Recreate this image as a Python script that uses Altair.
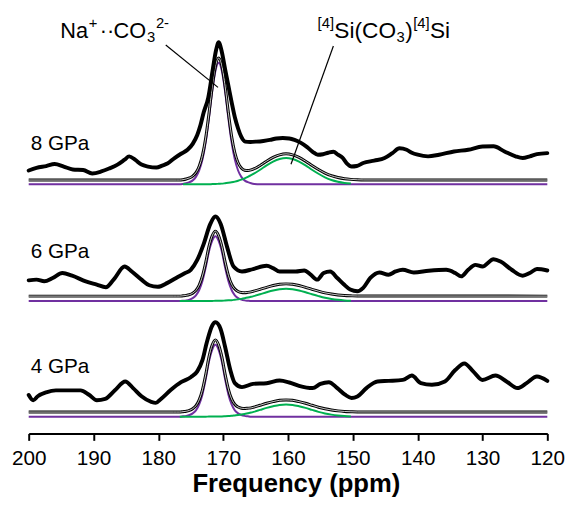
import altair as alt
import pandas as pd

FONT = "Liberation Sans"
PURPLE = "#7030A0"
GREEN = "#00B050"

# ---------------- data ----------------
panels = ["8 GPa", "6 GPa", "4 GPa"]
offsets = [252.7, 134.3, 17.0]          # vertical stacking offset of each spectrum
label_rel = [40.3, 49.2, 50.0]          # pressure label height above its spectrum
label_ppm = 199.7

# experimental spectra (thick black)
exp_ppm_8 = [200.0, 198.8, 197.3, 196.0, 194.6, 193.2, 191.6, 190.2, 188.8, 187.6,
             186.3, 185.2, 184.5, 183.6, 182.6, 181.6, 180.3, 179.4, 178.6, 177.5,
             176.5, 175.5, 174.7, 174.0, 173.5, 173.0, 172.3, 171.6, 171.1, 170.7,
             170.2, 169.7, 169.2, 168.7, 168.2, 167.7, 167.2, 166.6, 165.8, 164.9,
             163.8, 162.8, 161.8, 160.8, 159.8, 159.0, 158.0, 157.1, 156.2, 155.4,
             154.6, 153.8, 153.0, 152.3, 151.6, 150.9, 150.2, 149.4, 148.4, 146.7,
             145.1, 143.9, 142.8, 141.7, 140.9, 140.0, 138.4, 136.7, 134.4, 132.2,
             130.0, 128.3, 126.6, 124.9, 123.8, 122.7, 121.6, 120.0]
exp_int_8 = [14, 16.6, 18.5, 20.5, 18, 15, 14.5, 11, 13, 16,
             20, 25, 28.3, 25, 20, 18, 17, 19, 21, 26.6,
             31, 35, 41, 50, 60, 73, 88, 116.6, 136, 144,
             134, 116.6, 100, 83.3, 68, 56.6, 48, 43.3, 43, 43.3,
             44, 45, 46.5, 47, 46.5, 45, 42, 38, 33, 30,
             30.5, 32, 33, 30, 27, 21, 18, 18.5, 21.6, 24,
             26.6, 31.6, 36.5, 35, 32, 30, 28.3, 30, 33.3, 35,
             38.3, 38.5, 33.3, 28.3, 26.6, 28.3, 30.6, 31.6]

exp_ppm_6 = [200.0, 198.8, 197.6, 196.3, 194.8, 193.3, 191.2, 189.5, 188.1, 186.9,
             185.2, 184.1, 182.6, 181.4, 180.1, 178.6, 177.0, 176.0, 175.0, 174.0,
             173.0, 172.0, 171.2, 170.4, 169.4, 168.4, 167.1, 165.4, 163.3, 162.3,
             161.3, 158.8, 157.5, 156.5, 155.5, 154.5, 153.5, 152.4, 151.4, 150.4,
             149.3, 148.4, 147.3, 145.9, 144.5, 143.4, 142.3, 140.6, 138.3, 135.6,
             134.2, 133.3, 132.2, 131.1, 130.0, 128.3, 127.2, 125.5, 123.8, 122.7,
             121.6, 120.0]
exp_int_6 = [21, 21.7, 20, 23.4, 28.4, 25.7, 20, 16.7, 14, 21.7,
             35, 30, 21.7, 16, 14.4, 18.4, 24.4, 28, 31.7, 41.7,
             58, 78, 85.7, 78.4, 55, 35, 30, 32.4, 35.7, 33.4,
             30, 30, 31, 26.7, 21.7, 28.4, 30, 23.4, 17, 11.7,
             10, 13.4, 23.4, 29, 26.7, 30, 31.7, 29, 30.7, 31.7,
             28.4, 25, 31.7, 36.7, 35, 42.4, 40, 31.7, 25.7, 28.4,
             32.4, 31]

exp_ppm_4 = [200.0, 199.3, 198.6, 197.3, 195.8, 193.8, 192.0, 190.7, 189.5, 188.2,
             186.7, 185.1, 183.9, 182.6, 181.1, 180.4, 179.6, 178.1, 176.5, 175.0,
             174.0, 173.2, 172.5, 171.7, 171.2, 170.4, 169.7, 168.9, 168.2, 167.1,
             165.4, 163.3, 161.3, 159.8, 158.3, 156.2, 155.0, 153.7, 152.4, 151.2,
             150.2, 149.3, 147.9, 146.2, 144.5, 142.3, 140.9, 139.5, 137.8, 135.8,
             134.2, 132.8, 131.4, 130.0, 128.0, 126.3, 124.6, 123.2, 121.6, 120.0]
exp_int_4 = [22, 16.7, 20.7, 24.7, 26.7, 26.7, 26.7, 22.3, 16.7, 18,
             26.7, 35.7, 29, 20.7, 15, 14, 18, 27, 35, 40,
             46, 57.3, 76, 92.3, 95.7, 89, 70.7, 47.3, 34, 30,
             33.3, 34, 36.7, 34.7, 31.3, 29, 33.3, 35, 29, 22.3,
             19, 20.5, 29, 35.7, 36.3, 37.3, 41.7, 34, 32.3, 35.7,
             47.3, 54, 45.7, 37.3, 41.7, 35.7, 29, 34, 40.7, 36.3]

# fitted components (purple = Na+..CO3 2-, green = [4]Si(CO3)[4]Si) and total fit
comp_ppm_8 = [200, 177.2, 176.7, 176.2, 175.7, 175.2, 174.7, 174.2, 173.7, 173.2,
              172.7, 172.2, 171.7, 171.2, 170.7, 170.2, 169.7, 169.2, 168.7, 168.2,
              167.7, 167.2, 166.7, 166.2, 165.7, 165.2, 164.3, 163.3, 162.3, 161.3,
              160.3, 159.3, 158.3, 157.3, 156.3, 155.3, 154.3, 153.3, 152.3, 151.3,
              150.3, 149.3, 148.3, 120]
purple_8 = [0, 0, 0, 0.4, 1.1, 2.2, 4.0, 7.5, 14, 25,
            42.5, 67, 94, 115, 123.3, 115, 94, 67, 42.5, 25,
            14, 7.5, 4.0, 2.2, 1.1, 0.4, 0, 0, 0, 0,
            0, 0, 0, 0, 0, 0, 0, 0, 0, 0,
            0, 0, 0, 0]
green_8 = [None, None, None, 0, 0, 0, 0, 0, 0, 0,
           0.1, 0.1, 0.2, 0.3, 0.5, 0.7, 1.1, 1.5, 2.0, 2.7,
           3.6, 4.7, 6.0, 7.5, 9.2, 11.1, 14.8, 19.2, 23.0, 25.6,
           26.6, 25.6, 23.0, 19.2, 14.8, 10.7, 7.1, 4.4, 2.6, 1.4,
           0.7, None, None, None]
fit_8 = [4.3, 4.3, 4.3, 4.7, 5.4, 6.5, 8.3, 11.8, 18.3, 29.3,
         46.9, 71.4, 98.5, 119.6, 128.1, 120.0, 99.4, 72.8, 48.8, 32.0,
         21.9, 16.5, 14.3, 14.0, 14.6, 15.8, 19.1, 23.5, 27.3, 29.9,
         30.9, 29.9, 27.3, 23.5, 19.1, 15.0, 11.4, 8.7, 6.9, 5.7,
         5.0, 4.6, 4.4, 4.3]

comp_ppm_64 = [200, 177.7, 177.2, 176.7, 176.2, 175.7, 175.2, 174.7, 174.2, 173.7,
               173.2, 172.7, 172.2, 171.7, 171.2, 170.7, 170.2, 169.7, 169.2, 168.7,
               168.2, 167.7, 167.2, 166.7, 166.2, 165.7, 165.3, 164.3, 163.3, 162.3,
               161.3, 160.3, 159.3, 158.3, 157.3, 156.3, 155.3, 154.3, 153.3, 152.3,
               151.3, 150.3, 149.3, 120]
purple_6 = [0, 0, 0, 0, 0.3, 0.7, 1.5, 3.0, 5.8, 11.2,
            20.4, 34, 50, 61, 65.7, 61, 50, 34, 20.4, 11.2,
            5.8, 3.0, 1.5, 0.7, 0.3, 0, 0, 0, 0, 0,
            0, 0, 0, 0, 0, 0, 0, 0, 0, 0,
            0, 0, 0, 0]
green_6 = [None, None, None, 0, 0, 0, 0, 0, 0, 0,
           0, 0, 0.1, 0.1, 0.2, 0.2, 0.3, 0.5, 0.7, 0.9,
           1.3, 1.7, 2.2, 2.8, 3.5, 4.3, 5.0, 6.9, 8.9, 10.7,
           12.0, 12.4, 12.0, 10.7, 8.9, 6.9, 5.0, 3.3, 2.1, 1.2,
           0.6, 0.3, None, None]
fit_6 = [5, 5, 5, 5, 5.3, 5.7, 6.5, 8.0, 10.8, 16.2,
         25.4, 39.0, 55.1, 66.1, 70.9, 66.2, 55.3, 39.5, 26.1, 17.1,
         12.1, 9.7, 8.7, 8.5, 8.8, 9.3, 10.0, 11.9, 13.9, 15.7,
         17.0, 17.4, 17.0, 15.7, 13.9, 11.9, 10.0, 8.3, 7.1, 6.2,
         5.6, 5.3, 5.1, 5.0]
purple_4 = [0, 0, 0, 0, 0.4, 0.8, 1.7, 3.4, 6.4, 12.4,
            22.6, 37.8, 55.6, 67.8, 73, 67.8, 55.6, 37.8, 22.6, 12.4,
            6.4, 3.4, 1.7, 0.8, 0.4, 0, 0, 0, 0, 0,
            0, 0, 0, 0, 0, 0, 0, 0, 0, 0,
            0, 0, 0, 0]
green_4 = [None, None, None, 0, 0, 0, 0, 0, 0, 0,
           0, 0, 0.1, 0.1, 0.2, 0.2, 0.3, 0.5, 0.7, 0.9,
           1.3, 1.7, 2.2, 2.8, 3.5, 4.2, 4.9, 6.9, 8.9, 10.6,
           11.9, 12.3, 11.9, 10.6, 8.9, 6.9, 4.9, 3.3, 2.1, 1.2,
           0.6, 0.3, None, None]
fit_4 = [4.7, 4.7, 4.7, 4.7, 5.1, 5.5, 6.4, 8.1, 11.1, 17.1,
         27.3, 42.5, 60.4, 72.6, 77.9, 72.7, 60.6, 43.0, 28.0, 18.0,
         12.4, 9.8, 8.6, 8.3, 8.6, 8.9, 9.6, 11.6, 13.6, 15.3,
         16.6, 17.0, 16.6, 15.3, 13.6, 11.6, 9.6, 8.0, 6.8, 5.9,
         5.3, 5.0, 4.8, 4.7]

tick_values = [200, 190, 180, 170, 160, 150, 140, 130, 120]

# annotations (data coordinates: ppm, height)
ann1_anchor = (195.13, 401)
ann2_anchor = (155.44, 401)
leaders = {"ppm": [178.86, 153.0], "y": [394, 393],
           "ppm2": [170.80, 159.54], "y2": [351, 273]}

# ---------------- tables ----------------
def table(ppm, vals, panel, offset):
    d = pd.DataFrame({"ppm": ppm, "v": vals}).dropna()
    d["panel"] = panel
    d["y"] = d["v"] + offset
    return d

exp_df = pd.concat([table(exp_ppm_8, exp_int_8, panels[0], offsets[0]),
                    table(exp_ppm_6, exp_int_6, panels[1], offsets[1]),
                    table(exp_ppm_4, exp_int_4, panels[2], offsets[2])])
fit_df = pd.concat([table(comp_ppm_8, fit_8, panels[0], offsets[0]),
                    table(comp_ppm_64, fit_6, panels[1], offsets[1]),
                    table(comp_ppm_64, fit_4, panels[2], offsets[2])])
pur_df = pd.concat([table(comp_ppm_8, purple_8, panels[0], offsets[0]),
                    table(comp_ppm_64, purple_6, panels[1], offsets[1]),
                    table(comp_ppm_64, purple_4, panels[2], offsets[2])])
grn_df = pd.concat([table(comp_ppm_8, green_8, panels[0], offsets[0]),
                    table(comp_ppm_64, green_6, panels[1], offsets[1]),
                    table(comp_ppm_64, green_4, panels[2], offsets[2])])
lab_df = pd.DataFrame({"ppm": [label_ppm] * 3,
                       "y": [o + r for o, r in zip(offsets, label_rel)],
                       "t": panels})

# ---------------- encodings ----------------
xaxis = alt.Axis(values=tick_values, grid=False, labelFont=FONT, labelFontSize=21,
                 labelColor="black", labelPadding=7, labelFlush=False, labelOverlap=False,
                 tickColor="black", tickSize=7,
                 tickWidth=2, domainColor="black", domainWidth=2,
                 title="Frequency (ppm)", titleFont=FONT, titleFontSize=26,
                 titleFontWeight="bold", titleColor="black", titleBaseline="alphabetic",
                 titleY=59, titleX=271, titleAlign="center")
X = alt.X("ppm:Q", scale=alt.Scale(domain=[120, 200], reverse=True, nice=False, zero=False),
          axis=xaxis)
Y = alt.Y("y:Q", scale=alt.Scale(domain=[0, 428], nice=False, zero=False), axis=None)
ORD = alt.Order("ppm:Q", sort="descending")


def line(df, color, width, **kw):
    return alt.Chart(df).mark_line(color=color, strokeWidth=width, interpolate="monotone",
                                   **kw).encode(x=X, y=Y, detail="panel:N", order=ORD)


layers = [
    line(pur_df, PURPLE, 2),
    line(grn_df, GREEN, 2),
    line(fit_df, "black", 3.0),
    line(fit_df, "white", 0.8),
    line(exp_df, "black", 4, strokeJoin="round", strokeCap="round"),
    alt.Chart(lab_df).mark_text(align="left", baseline="middle", font=FONT, fontSize=21,
                                color="black").encode(x=X, y=Y, text="t:N"),
    alt.Chart(pd.DataFrame(leaders)).mark_rule(color="black", strokeWidth=1.2).encode(
        x=X, y=Y, x2="ppm2:Q", y2="y2:Q"),
]


def piece(anchor, text, dx, dy, size):
    d = pd.DataFrame({"ppm": [anchor[0]], "y": [anchor[1]], "t": [text]})
    return alt.Chart(d).mark_text(align="left", baseline="alphabetic", font=FONT,
                                  fontSize=size, dx=dx, dy=dy, color="black").encode(
        x=X, y=Y, text="t:N")


ann1 = [("Na", 0, 0, 22), ("+", 29, -10, 15), ("\u00b7\u00b7", 40, 0, 22),
        ("CO", 54, 0, 22), ("3", 88, 4, 15), ("2-", 97, -10, 15)]
ann2 = [("[4]", 0, -10, 15), ("Si(CO", 17, 0, 23), ("3", 80, 4, 15),
        (")", 89, 0, 23), ("[4]", 97, -10, 15), ("Si", 114, 0, 23)]
for t, dx, dy, s in ann1:
    layers.append(piece(ann1_anchor, t, dx, dy, s))
for t, dx, dy, s in ann2:
    layers.append(piece(ann2_anchor, t, dx, dy, s))

chart = alt.layer(*layers).properties(
    width=526, height=428,
    autosize=alt.AutoSizeParams(type="none"),
    padding={"left": 21, "top": 0, "right": 22, "bottom": 65},
    background="white",
).configure_view(stroke=None)

chart.save("out.html", embed_options={"renderer": "svg", "actions": False})
